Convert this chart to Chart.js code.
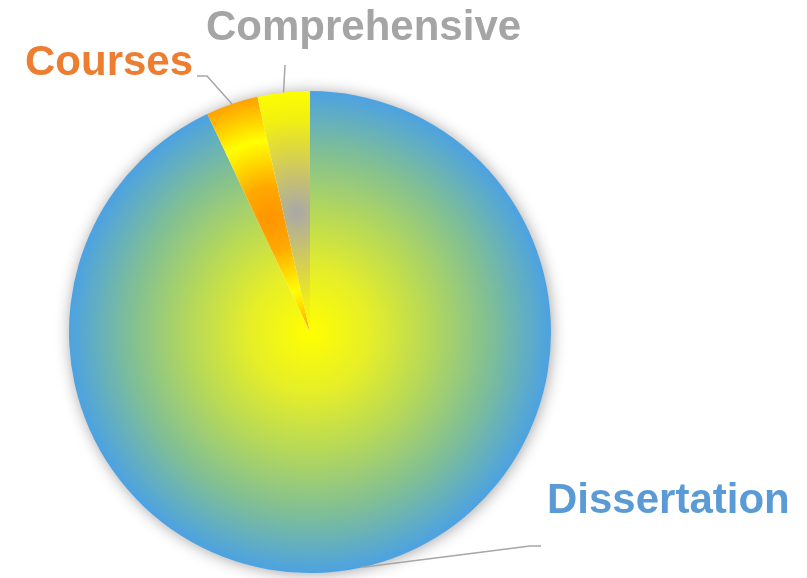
<!DOCTYPE html>
<html>
<head>
<meta charset="utf-8">
<script src="https://cdn.jsdelivr.net/npm/chart.js@4"></script>
<style>
  html, body { margin: 0; padding: 0; background: #fff; }
  #wrap { width: 807px; height: 578px; }
</style>
</head>
<body>
<div id="wrap"><canvas id="pieCanvas" width="807" height="578"></canvas></div>
<script>
// chart data
const LABELS = ['Dissertation', 'Courses', 'Comprehensive'];
const VALUES = [93, 3.5, 3.5];
const LABEL_COLORS = ['#5b9bd5', '#ed7d31', '#a5a5a5'];

// geometry of the pie, taken from the chart area
function pieGeom(chart) {
    const a = chart.chartArea;
    return {
        cx: (a.left + a.right) / 2,
        cy: (a.top + a.bottom) / 2,
        r: Math.min(a.width, a.height) / 2
    };
}

// mid angle of a slice (0 = top, clockwise)
function midAngle(data, i) {
    const total = data.reduce((s, v) => s + v, 0);
    let before = 0;
    for (let k = 0; k < i; k++) before += data[k];
    return (before + data[i] / 2) / total * Math.PI * 2;
}

// excel-ish path gradients for each slice
function sliceFill(context) {
    const chart = context.chart;
    if (!chart.chartArea) return '#5b9bd5';
    const g = pieGeom(chart);
    const c = chart.ctx;
    const i = context.dataIndex;
    if (i === 0) {
        const grad = c.createRadialGradient(g.cx, g.cy, 0, g.cx, g.cy, g.r);
        grad.addColorStop(0, '#ffff00');
        grad.addColorStop(0.25, '#e6ee28');
        grad.addColorStop(0.5, '#b5d85a');
        grad.addColorStop(0.75, '#80bf95');
        grad.addColorStop(1, '#4ca2e2');
        return grad;
    }
    const ang = midAngle(context.dataset.data, i);
    const px = g.cx + Math.sin(ang) * g.r * 0.5;
    const py = g.cy - Math.cos(ang) * g.r * 0.5;
    const grad = c.createRadialGradient(px, py, 0, px, py, g.r * 0.52);
    if (i === 1) {
        grad.addColorStop(0, '#ff9400');
        grad.addColorStop(0.25, '#ffa800');
        grad.addColorStop(0.62, '#ffff00');
        grad.addColorStop(0.85, '#ffc000');
        grad.addColorStop(1, '#ff9900');
    } else {
        grad.addColorStop(0, '#a8a8a8');
        grad.addColorStop(0.35, '#cfc860');
        grad.addColorStop(0.75, '#f2f010');
        grad.addColorStop(1, '#ffff00');
    }
    return grad;
}

// soft shadow under the pie
const shadowPlugin = {
    id: 'pieShadow',
    beforeDatasetsDraw(chart) {
        const g = pieGeom(chart);
        const c = chart.ctx;
        c.save();
        c.shadowColor = 'rgba(0,0,0,0.4)';
        c.shadowBlur = 16;
        c.shadowOffsetX = 1;
        c.shadowOffsetY = 1;
        c.fillStyle = '#ffffff';
        c.beginPath();
        c.arc(g.cx, g.cy, g.r - 1, 0, Math.PI * 2);
        c.fill();
        c.restore();
    }
};

// outside labels with leader lines
const labelPlugin = {
    id: 'outLabels',
    afterDatasetsDraw(chart) {
        const g = pieGeom(chart);
        const c = chart.ctx;
        const data = chart.data.datasets[0].data;
        // label placement: [text x, baseline y, elbow x, elbow y, end x]
        const place = [
            [547, 513, 530, 546, 541],
            [25, 75, 207, 76, 197],
            [206, 40, 285, 65, 285]
        ];
        c.save();
        c.strokeStyle = '#a6a6a6';
        c.lineWidth = 1.5;
        data.forEach((v, i) => {
            const ang = midAngle(data, i);
            const sx = g.cx + Math.sin(ang) * g.r;
            const sy = g.cy - Math.cos(ang) * g.r;
            const p = place[i];
            c.beginPath();
            c.moveTo(sx, sy);
            c.lineTo(p[2], p[3]);
            c.lineTo(p[4], p[3]);
            c.stroke();
        });
        c.font = 'bold 42px "Liberation Sans", Arial, sans-serif';
        c.textBaseline = 'alphabetic';
        c.textAlign = 'left';
        chart.data.labels.forEach((lab, i) => {
            c.fillStyle = LABEL_COLORS[i];
            c.fillText(lab, place[i][0], place[i][1]);
        });
        c.restore();
    }
};

const ctx = document.getElementById('pieCanvas').getContext('2d');
const myChart = new Chart(ctx, {
    type: 'pie',
    data: {
        labels: LABELS,
        datasets: [{
            data: VALUES,
            backgroundColor: sliceFill,
            borderWidth: 0,
            hoverOffset: 0
        }]
    },
    options: {
        responsive: false,
        animation: false,
        layout: { padding: { left: 69, right: 256, top: 91, bottom: 5 } },
        plugins: {
            legend: { display: false },
            tooltip: { enabled: false }
        }
    },
    plugins: [shadowPlugin, labelPlugin]
});
</script>
</body>
</html>
